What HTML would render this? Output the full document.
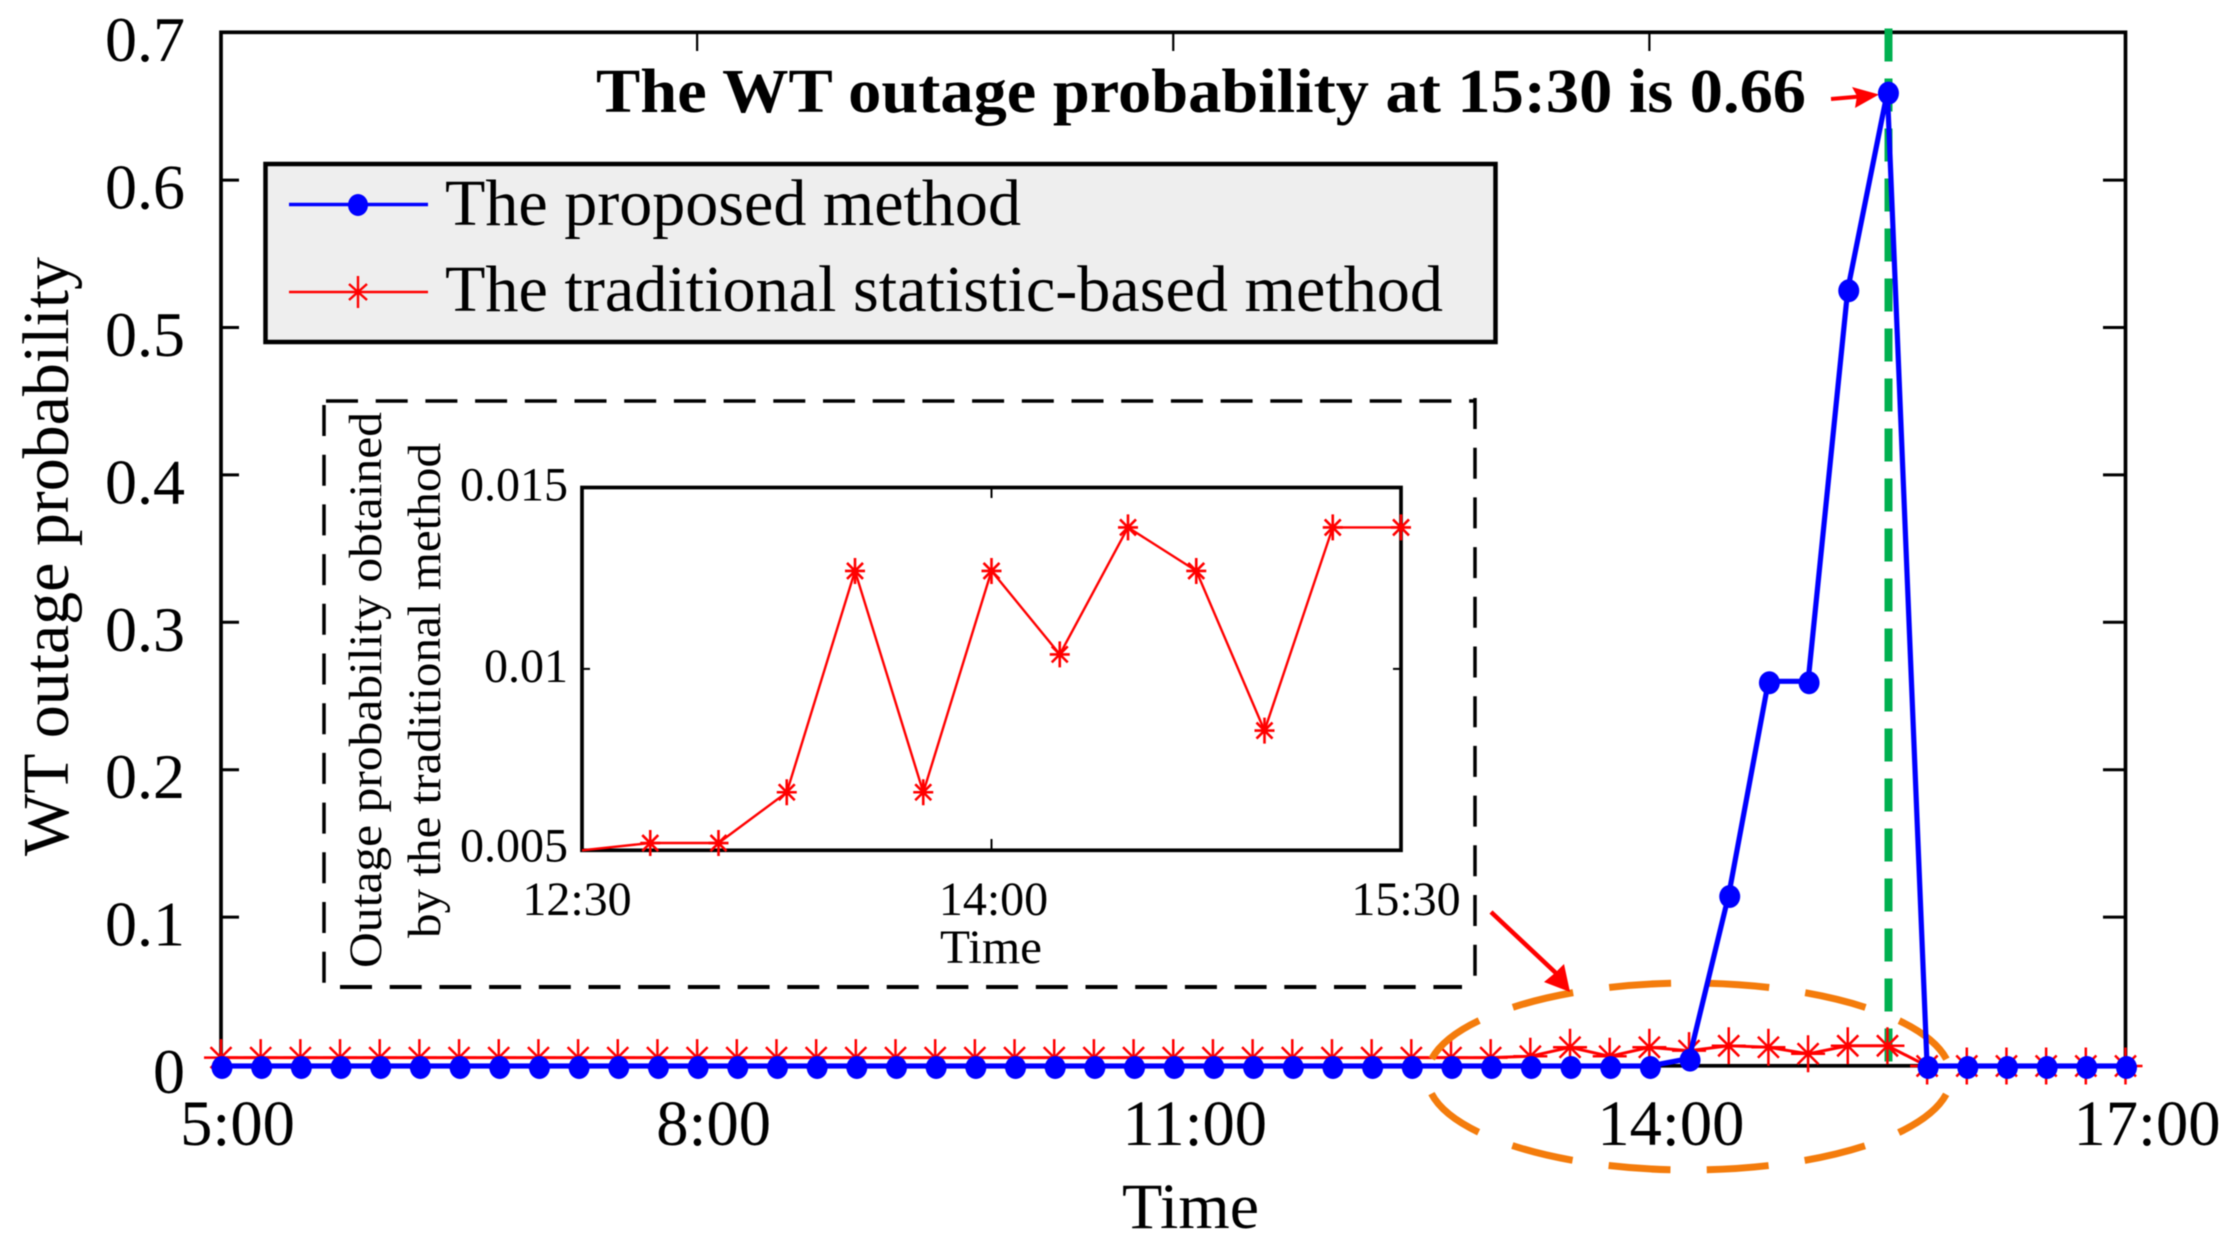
<!DOCTYPE html>
<html>
<head>
<meta charset="utf-8">
<title>WT outage probability</title>
<style>
html,body{margin:0;padding:0;background:#fff;}
svg{display:block;filter:blur(0.5px);}
text{font-family:"Liberation Serif","Times New Roman",serif;fill:#000;}
</style>
</head>
<body>
<svg id="chart" xmlns="http://www.w3.org/2000/svg" width="2235" height="1248" viewBox="0 0 2235 1248">
  <rect x="0" y="0" width="2235" height="1248" fill="#fff"/>
  <g id="main-axes"></g>

  <text transform="translate(68 856) rotate(-90)" font-size="66" textLength="599" lengthAdjust="spacingAndGlyphs">WT outage probability</text>
  <text x="1122" y="1228" font-size="65" textLength="137" lengthAdjust="spacingAndGlyphs">Time</text>

  <g>
    <rect x="265.5" y="164" width="1230" height="178" fill="#eeeeee" stroke="#000" stroke-width="4.5"/>
    <line x1="289" y1="204.5" x2="428" y2="204.5" stroke="#0000ff" stroke-width="3.5"/>
    <ellipse cx="358" cy="205" rx="10" ry="11" fill="#0000ff"/>
    <text x="445" y="225" font-size="66" textLength="576" lengthAdjust="spacingAndGlyphs">The proposed method</text>
    <line x1="289" y1="292" x2="428" y2="292" stroke="#ff0000" stroke-width="2.5"/>
    <path d="M358 276V308M349 284L367 300M367 284L349 300" stroke="#ff0000" stroke-width="2.4" fill="none"/>
    <text x="445" y="311" font-size="66" textLength="998" lengthAdjust="spacingAndGlyphs">The traditional statistic-based method</text>
  </g>

  <g stroke="#000" stroke-width="3.5" fill="none">
    <line x1="326" y1="401" x2="1475" y2="401" stroke-dasharray="32 17.7"/>
    <line x1="340" y1="987" x2="1462" y2="987" stroke-dasharray="32 17.7" stroke-width="4"/>
    <line x1="324" y1="405" x2="324" y2="984" stroke-dasharray="31 18.7"/>
    <line x1="1475" y1="398" x2="1475" y2="978" stroke-dasharray="31 18.7"/>
  </g>
  <text transform="translate(381 968) rotate(-90)" font-size="47" textLength="556" lengthAdjust="spacingAndGlyphs">Outage probability obtained</text>
  <text transform="translate(440 938) rotate(-90)" font-size="47" textLength="495" lengthAdjust="spacingAndGlyphs">by the traditional method</text>
  <text x="940" y="963" font-size="48" textLength="102" lengthAdjust="spacingAndGlyphs">Time</text>

  <g id="inset-axes"></g>
  <g id="inset-series"></g>

  <line x1="1888.5" y1="28.5" x2="1888.5" y2="1066" stroke="#00b050" stroke-width="8" stroke-dasharray="33 17"/>

  <text x="596" y="112" font-size="62" font-weight="bold" textLength="1210" lengthAdjust="spacingAndGlyphs">The WT outage probability at 15:30 is 0.66</text>
  <g>
    <line x1="1831" y1="99" x2="1866" y2="96" stroke="#ff0000" stroke-width="4"/>
    <path d="M1879 94.5L1852 87L1857 96L1855 108Z" fill="#ff0000"/>
  </g>

  <g id="traditional-series"></g>
  <ellipse cx="1689" cy="1076.5" rx="262" ry="93.5" fill="none" stroke="#f47c0c" stroke-width="7" pathLength="1200" stroke-dasharray="63 37" stroke-dashoffset="-19"/>
  <g id="proposed-series"></g>

  <g>
    <line x1="1491" y1="912" x2="1558" y2="975" stroke="#ff0000" stroke-width="4.5"/>
    <path d="M1570 992L1544 982L1555 973L1564 964Z" fill="#ff0000"/>
  </g>
</svg>

<script>
var timeHours = [5,5.25,5.5,5.75,6,6.25,6.5,6.75,7,7.25,7.5,7.75,8,8.25,8.5,8.75,9,9.25,9.5,9.75,10,10.25,10.5,10.75,11,11.25,11.5,11.75,12,12.25,12.5,12.75,13,13.25,13.5,13.75,14,14.25,14.5,14.75,15,15.25,15.5,15.75,16,16.25,16.5,16.75,17];
var proposedValues = [0,0,0,0,0,0,0,0,0,0,0,0,0,0,0,0,0,0,0,0,0,0,0,0,0,0,0,0,0,0,0,0,0,0,0,0,0,0.005,0.116,0.261,0.261,0.527,0.661,0,0,0,0,0,0];
var traditionalValues = [0.0057,0.0057,0.0057,0.0057,0.0057,0.0057,0.0057,0.0057,0.0057,0.0057,0.0057,0.0057,0.0057,0.0057,0.0057,0.0057,0.0057,0.0057,0.0057,0.0057,0.0057,0.0057,0.0057,0.0057,0.0057,0.0057,0.0057,0.0057,0.0057,0.0057,0.0057,0.0057,0.0057,0.0066,0.0127,0.0066,0.0127,0.0104,0.0137,0.0127,0.0083,0.0137,0.0137,0,0,0,0,0,0];
var insetTimes = [12.5,12.75,13,13.25,13.5,13.75,14,14.25,14.5,14.75,15,15.25,15.5];
var insetValues = [0.005,0.0052,0.0052,0.0066,0.0127,0.0066,0.0127,0.0104,0.0139,0.0127,0.0083,0.0139,0.0139];
var yTickValues = [0,0.1,0.2,0.3,0.4,0.5,0.6,0.7];
var yTickLabels = ['0','0.1','0.2','0.3','0.4','0.5','0.6','0.7'];
var xTickValues = [5,8,11,14,17];
var xTickLabels = ['5:00','8:00','11:00','14:00','17:00'];
var insetYTickValues = [0.005,0.01,0.015];
var insetYTickLabels = ['0.005','0.01','0.015'];
var insetXTickValues = [12.5,14,15.5];
var insetXTickLabels = ['12:30','14:00','15:30'];

var NS = 'http://www.w3.org/2000/svg';
function xMain(t){ return 221 + (t - 5) * (2125.5 - 221) / 12; }
function yMain(v){ return 1064.5 - v * 1474; }
function yData(v){ return yMain(v) + 1.5; }
function xInset(t){ return 582 + (t - 12.5) * (1401 - 582) / 3; }
function yInset(v){ return 850.3 - (v - 0.005) * (850.3 - 487.5) / 0.01; }
function make(tag, parent, attrs){
  var el = document.createElementNS(NS, tag);
  for (var k in attrs) el.setAttribute(k, attrs[k]);
  parent.appendChild(el);
  return el;
}
function starPath(x, y, v, h, dx, dy){
  return 'M' + x + ' ' + (y - v) + 'V' + (y + v) +
         'M' + (x - h) + ' ' + y + 'H' + (x + h) +
         'M' + (x - dx) + ' ' + (y - dy) + 'L' + (x + dx) + ' ' + (y + dy) +
         'M' + (x + dx) + ' ' + (y - dy) + 'L' + (x - dx) + ' ' + (y + dy);
}
function polyPoints(xs, ys, fx, fy){
  return xs.map(function(t, i){ return fx(t).toFixed(1) + ',' + fy(ys[i]).toFixed(1); }).join(' ');
}

/* main axes */
var mainAxes = document.getElementById('main-axes');
var frameMain = make('rect', mainAxes, {x:221, y:32.3, width:1904.5, height:1033.5, fill:'none', stroke:'#000', 'stroke-width':3.7});


yTickValues.forEach(function(v, i){
  var y = yMain(v);
  if (v > 0 && v < 0.7) {
    var left = make('line', mainAxes, {x1:221, x2:239, y1:y, y2:y, stroke:'#000', 'stroke-width':3});
    
    
    var right = make('line', mainAxes, {x1:2103, x2:2125, y1:y, y2:y, stroke:'#000', 'stroke-width':3});
    
    
  }
  var label = make('text', mainAxes, {x:185, y:y + 28.5, 'font-size':64, 'text-anchor':'end'});
  label.textContent = yTickLabels[i];
  
  
});
xTickValues.forEach(function(t, i){
  var x = xMain(t);
  if (t > 5 && t < 17) {
    var top = make('line', mainAxes, {x1:x, x2:x, y1:32, y2:51, stroke:'#000', 'stroke-width':2.2});
    
    
    var bottom = make('line', mainAxes, {x1:x, x2:x, y1:1047, y2:1066, stroke:'#000', 'stroke-width':2.2});
    
    
  }
  var offset = xTickLabels[i].length === 4 ? 16.5 : 21.5;
  var label = make('text', mainAxes, {x:x + offset, y:1145, 'font-size':64.5, 'text-anchor':'middle'});
  label.textContent = xTickLabels[i];
  
  
});

/* inset axes */
var insetAxes = document.getElementById('inset-axes');
var frameInset = make('rect', insetAxes, {x:582, y:487.5, width:819, height:362.8, fill:'none', stroke:'#000', 'stroke-width':3.7});


insetYTickValues.forEach(function(v, i){
  var y = yInset(v);
  if (v > 0.005 && v < 0.015) {
    var left = make('line', insetAxes, {x1:582, x2:590, y1:y, y2:y, stroke:'#000', 'stroke-width':2});
    
    
    var right = make('line', insetAxes, {x1:1393, x2:1401, y1:y, y2:y, stroke:'#000', 'stroke-width':2});
    
    
  }
  var label = make('text', insetAxes, {x:568, y:y + (i === 0 ? 11 : 13), 'font-size':48, 'text-anchor':'end'});
  label.textContent = insetYTickLabels[i];
  
  
});
insetXTickValues.forEach(function(t, i){
  var x = xInset(t);
  if (t > 12.5 && t < 15.5) {
    var top = make('line', insetAxes, {x1:x, x2:x, y1:487, y2:498, stroke:'#000', 'stroke-width':2});
    
    
    var bottom = make('line', insetAxes, {x1:x, x2:x, y1:839, y2:850, stroke:'#000', 'stroke-width':2});
    
    
  }
  var label = make('text', insetAxes, {x:x + (i === 1 ? 2 : (i === 0 ? -5 : 5)), y:915, 'font-size':48, 'text-anchor':'middle'});
  label.textContent = insetXTickLabels[i];
  
  
});

/* inset series */
var insetGroup = document.getElementById('inset-series');
var insetLine = make('polyline', insetGroup, {points:polyPoints(insetTimes, insetValues, xInset, yInset), fill:'none', stroke:'#ff0000', 'stroke-width':2.4});


insetTimes.forEach(function(t, i){
  if (i === 0) return;
  var star = make('path', insetGroup, {d:starPath(xInset(t), yInset(insetValues[i]), 13, 10, 8, 8), fill:'none', stroke:'#ff0000', 'stroke-width':2.6});
  
  
});

/* traditional series */
var tradGroup = document.getElementById('traditional-series');
var tradLine = make('polyline', tradGroup, {points:polyPoints(timeHours, traditionalValues, xMain, yData), fill:'none', stroke:'#ff0000', 'stroke-width':3});


timeHours.forEach(function(t, i){
  var star = make('path', tradGroup, {d:starPath(xMain(t), yData(traditionalValues[i]), 18.5, 17, 10.5, 10.5), fill:'none', stroke:'#ff0000', 'stroke-width':2.5});
  
  
});

/* proposed series */
var propGroup = document.getElementById('proposed-series');
var propLine = make('polyline', propGroup, {points:polyPoints(timeHours, proposedValues, xMain, yData), fill:'none', stroke:'#0000ff', 'stroke-width':5.2});


timeHours.forEach(function(t, i){
  var dot = make('ellipse', propGroup, {cx:xMain(t) + 1, cy:yData(proposedValues[i]) + 1.5, rx:10.5, ry:11.5, fill:'#0000ff'});
  
  
});
</script>
</body>
</html>
